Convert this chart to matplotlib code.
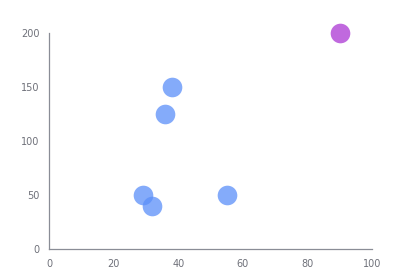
import matplotlib
matplotlib.use("Agg")
import matplotlib.pyplot as plt

x_blue = [29, 32, 36, 38, 55]
y_blue = [50, 40, 125, 150, 50]
x_purple = [90]
y_purple = [200]
x_ticks = [0, 20, 40, 60, 80, 100]
y_ticks = [0, 50, 100, 150, 200]

fig = plt.figure(figsize=(4.02, 2.72), dpi=100)
ax = fig.add_axes([49/402, 23/272, 323/402, 216/272])
ax.scatter(x_blue, y_blue, s=200, color="#5B8FF9", alpha=0.75, linewidths=0, zorder=3, clip_on=False)
ax.scatter(x_purple, y_purple, s=200, color="#B54FD9", alpha=0.85, linewidths=0, zorder=3, clip_on=False)
ax.set_xlim(0, 100)
ax.set_ylim(0, 200)
ax.set_xticks(x_ticks)
ax.set_yticks(y_ticks)
for s in ["top", "right"]:
    ax.spines[s].set_visible(False)
for s in ["left", "bottom"]:
    ax.spines[s].set_color("#8a8d96")
    ax.spines[s].set_linewidth(0.9)
ax.tick_params(axis="both", length=0, labelsize=7, labelcolor="#6e7079", pad=7)
ax.patch.set_alpha(0)
for sp in ax.spines.values():
    sp.set_clip_on(False)
fig.savefig("out.png", dpi=100)
